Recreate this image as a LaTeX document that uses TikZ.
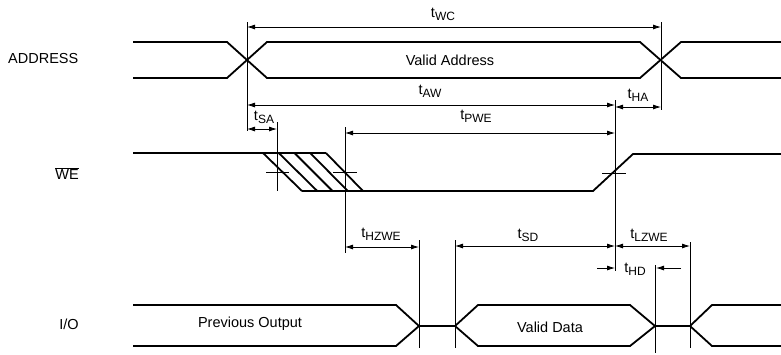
\documentclass[tikz,border=0pt]{standalone}
\usepackage{fontspec}
\setmainfont{Liberation Sans}
\usetikzlibrary{arrows.meta}
\tikzset{
  sig/.style={line width=1.8pt, line join=miter},
  refline/.style={line width=0.8pt},
  tick/.style={line width=1pt},
  dim/.style={line width=0.8pt, {Latex[length=8pt,width=5pt]}-{Latex[length=8pt,width=5pt]}},
  onearrow/.style={line width=0.8pt, -{Latex[length=8pt,width=5pt]}},
  lbl/.style={font=\fontsize{14.5}{15}\selectfont, inner sep=0pt},
}
\newcommand\tsub[1]{t\raisebox{-0.4ex}{\fontsize{12}{12}\selectfont #1}}
\begin{document}
\begin{tikzpicture}[x=1pt,y=-1pt]
\useasboundingbox (0,0) rectangle (781,354);

% ---------- coordinates ----------
\coordinate (wcL) at (247,27);   \coordinate (wcR) at (661,27);
\coordinate (awL) at (247,105);  \coordinate (awR) at (615,105);
\coordinate (haL) at (615,107);  \coordinate (haR) at (661,107);
\coordinate (saL) at (247,129);  \coordinate (saR) at (277,129);
\coordinate (pwL) at (345,133);  \coordinate (pwR) at (615,133);
\coordinate (hzL) at (345,247);  \coordinate (hzR) at (419,247);
\coordinate (sdL) at (455,246);  \coordinate (sdR) at (615,246);
\coordinate (lzL) at (615,246);  \coordinate (lzR) at (690,246);
\coordinate (hdA) at (597,268);  \coordinate (hdB) at (615,268);
\coordinate (hdC) at (681,268);  \coordinate (hdD) at (656,268);

% ---------- reference verticals ----------
\draw[refline] (247,22) -- (247,131);
\draw[refline] (661,22) -- (661,110);
\draw[refline] (615,100) -- (615,271);
\draw[refline] (277,122) -- (277,191);
\draw[refline] (345,127) -- (345,253);
\draw[refline] (419,240) -- (419,348);
\draw[refline] (455,240) -- (455,348);
\draw[refline] (655,265) -- (655,353);
\draw[refline] (690,242) -- (690,348);

% ---------- dimension arrows ----------
\draw[dim] (wcL) -- (wcR);
\draw[dim] (awL) -- (awR);
\draw[dim] (haL) -- (haR);
\draw[dim] (saL) -- (saR);
\draw[dim] (pwL) -- (pwR);
\draw[dim] (hzL) -- (hzR);
\draw[dim] (sdL) -- (sdR);
\draw[dim] (lzL) -- (lzR);
\draw[onearrow] (hdA) -- (hdB);
\draw[onearrow] (hdC) -- (hdD);

% ---------- ADDRESS ----------
\draw[sig] (133,42) -- (227,42) -- (267,78) -- (640,78) -- (681,42) -- (781,42);
\draw[sig] (133,78) -- (227,78) -- (267,42) -- (640,42) -- (681,78) -- (781,78);

% ---------- WE ----------
\draw[sig] (133,153) -- (326,153);
\draw[sig] (263,153) -- (302,191);
\draw[sig] (278.75,153) -- (317.25,191);
\draw[sig] (294.5,153) -- (332.5,191);
\draw[sig] (310.25,153) -- (347.75,191);
\draw[sig] (326,153) -- (363,191);
\draw[sig] (302,191) -- (593,191) -- (633,154) -- (781,154);
\draw[tick] (266,172) -- (289,172);
\draw[tick] (333,172) -- (357,172);
\draw[tick] (602,173) -- (626,173);

% ---------- I/O ----------
\draw[sig] (133,305) -- (396,305) -- (419,326) -- (455,326) -- (478,305) -- (630,305)
  -- (655,326) -- (690,326) -- (712,305) -- (781,305);
\draw[sig] (133,346) -- (396,346) -- (419,326) (455,326) -- (478,346) -- (630,346)
  -- (655,326) (690,326) -- (712,346) -- (781,346);

% ---------- labels ----------
\node[lbl, anchor=west] (address) at (8,59) {ADDRESS};
\node[lbl] (we) at (67,174) {$\overline{\mbox{WE}}$};
\node[lbl] (io) at (69,324) {I/O};
\node[lbl] (valaddr) at (450,60) {Valid Address};
\node[lbl] (prevout) at (250,324) {Previous Output};
\node[lbl] (valdata) at (550,327) {Valid Data};

\node[lbl] (twc) at (443,14) {\tsub{WC}};
\node[lbl] (taw) at (430,91) {\tsub{AW}};
\node[lbl] (tha) at (638,95) {\tsub{HA}};
\node[lbl] (tsa) at (264,117) {\tsub{SA}};
\node[lbl] (tpwe) at (476,116) {\tsub{PWE}};
\node[lbl] (thzwe) at (381,234) {\tsub{HZWE}};
\node[lbl] (tsd) at (528,235) {\tsub{SD}};
\node[lbl] (tlzwe) at (649,235) {\tsub{LZWE}};
\node[lbl] (thd) at (635,269) {\tsub{HD}};
\end{tikzpicture}
\end{document}
